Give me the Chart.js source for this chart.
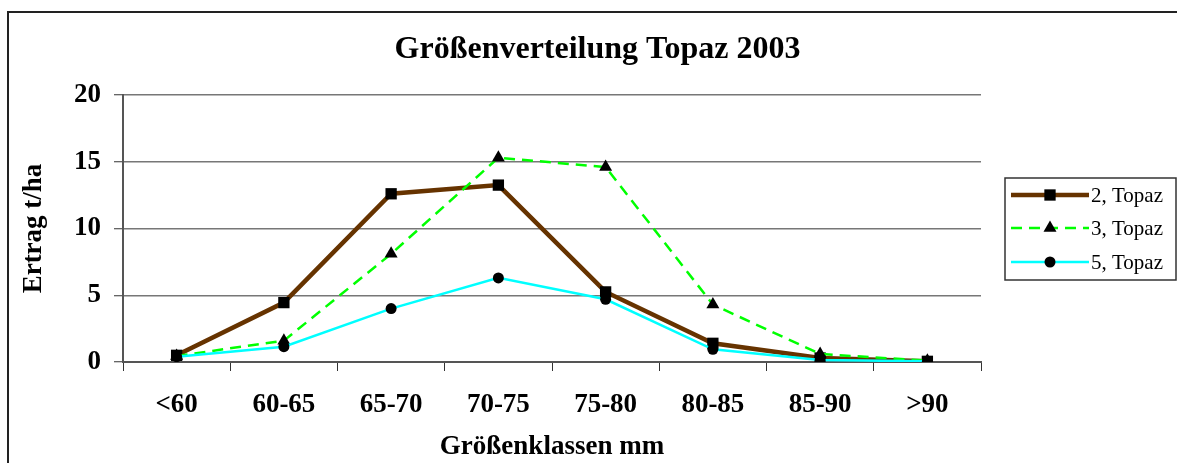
<!DOCTYPE html>
<html>
<head>
<meta charset="utf-8">
<script src="https://cdn.jsdelivr.net/npm/chart.js@4.4.1/dist/chart.umd.min.js"></script>
<style>
  html, body { margin: 0; padding: 0; background: #fff; overflow: hidden; }
  #wrap { position: relative; width: 1177px; height: 463px; }
  #frame { position: absolute; left: 7px; top: 11px; width: 1300px; height: 600px; border: 2px solid #222; }
  canvas { position: absolute; left: 0; top: 0; }
</style>
</head>
<body>
<div id="wrap">
  <div id="frame"></div>
  <canvas id="chart" width="1177" height="463"></canvas>
</div>
<script>
// Kategorien und Werte (Ertrag t/ha)
const categories = ['<60', '60-65', '65-70', '70-75', '75-80', '80-85', '85-90', '>90'];
const topaz2 = [0.5, 4.45, 12.6, 13.25, 5.25, 1.4, 0.3, 0.05];
const topaz3 = [0.45, 1.6, 8.1, 15.3, 14.6, 4.3, 0.6, 0.1];
const topaz5 = [0.4, 1.15, 4.0, 6.3, 4.7, 0.95, 0.15, 0.05];
const yTicks = [0, 5, 10, 15, 20];

const serif = '"Liberation Serif", "Times New Roman", serif';

// Legende als eigenes Plugin (Linie + Marker wie im Original)
const legendPlugin = {
    id: 'excelLegend',
    afterDraw(chart) {
        const ctx = chart.ctx;
        const x0 = 1005, y0 = 178, h = 102;
        ctx.save();
        ctx.fillStyle = '#fff';
        ctx.fillRect(x0, y0, 1176 - x0, h);
        ctx.strokeStyle = '#333';
        ctx.lineWidth = 1.5;
        ctx.strokeRect(x0, y0, 1176 - x0, h);
        const rows = [195, 228, 262];
        chart.data.datasets.forEach((ds, i) => {
            const y = rows[i];
            ctx.beginPath();
            ctx.strokeStyle = ds.borderColor;
            ctx.lineWidth = ds.borderWidth;
            ctx.setLineDash(ds.borderDash || []);
            ctx.moveTo(1011, y);
            ctx.lineTo(1089, y);
            ctx.stroke();
            ctx.setLineDash([]);
            // Marker
            ctx.fillStyle = '#000';
            ctx.strokeStyle = '#000';
            Chart.helpers.drawPoint(ctx, {
                pointStyle: ds.pointStyle,
                radius: ds.pointRadius,
                rotation: 0,
                borderWidth: 0
            }, 1050, y);
            ctx.fillStyle = '#000';
            ctx.font = '21px ' + serif;
            ctx.textBaseline = 'middle';
            ctx.textAlign = 'left';
            ctx.fillText(ds.label, 1091, y + 1);
        });
        ctx.restore();
    }
};

const ctx = document.getElementById('chart').getContext('2d');
new Chart(ctx, {
    type: 'line',
    data: {
        labels: categories,
        datasets: [{
            label: '2, Topaz',
            data: topaz2,
            borderColor: '#663300',
            borderWidth: 4.5,
            pointStyle: 'rect',
            pointRadius: 8,
            pointBackgroundColor: '#000',
            pointBorderColor: '#000',
            pointBorderWidth: 0,
            order: 2,
            tension: 0
        }, {
            label: '3, Topaz',
            data: topaz3,
            borderColor: '#00ff00',
            borderWidth: 2.5,
            borderDash: [11, 7],
            pointStyle: 'triangle',
            pointRadius: 7.5,
            pointBackgroundColor: '#000',
            pointBorderColor: '#000',
            pointBorderWidth: 0,
            order: 1,
            tension: 0
        }, {
            label: '5, Topaz',
            data: topaz5,
            borderColor: '#00ffff',
            borderWidth: 2.5,
            pointStyle: 'circle',
            pointRadius: 5.5,
            pointBackgroundColor: '#000',
            pointBorderColor: '#000',
            pointBorderWidth: 0,
            order: 0,
            tension: 0
        }]
    },
    options: {
        responsive: false,
        animation: false,
        layout: { padding: { left: 18, right: 0, top: 0, bottom: 0 } },
        plugins: {
            legend: { display: false },
            tooltip: { enabled: false },
            title: {
                display: true,
                text: 'Größenverteilung Topaz 2003',
                color: '#000',
                font: { family: serif, size: 32, weight: 'bold', lineHeight: 1.2 },
                padding: { top: 31, bottom: 25.6 }
            }
        },
        scales: {
            x: {
                offset: true,
                grid: { display: true, drawOnChartArea: false, offset: true, tickLength: 9, color: '#333', lineWidth: 1 },
                border: { display: true, color: '#555', width: 2 },
                ticks: { color: '#000', padding: 18, font: { family: serif, size: 27, weight: 'bold' } },
                title: {
                    display: true,
                    text: 'Größenklassen mm',
                    color: '#000',
                    font: { family: serif, size: 27, weight: 'bold', lineHeight: 1.2 },
                    padding: { top: 0, bottom: 0 }
                },
                afterFit: s => { s.height = 101; }
            },
            y: {
                min: 0,
                max: 20,
                afterBuildTicks: s => { s.ticks = yTicks.map(v => ({ value: v })); },
                grid: { color: '#777', lineWidth: 1.5, tickLength: 9, tickColor: '#333', tickWidth: 1 },
                border: { display: true, color: '#555', width: 2 },
                ticks: { color: '#000', padding: 13, font: { family: serif, size: 27, weight: 'bold' } },
                title: {
                    display: true,
                    text: 'Ertrag t/ha',
                    color: '#000',
                    font: { family: serif, size: 27, weight: 'bold', lineHeight: 1.2 },
                    padding: { top: 0, bottom: 0 }
                },
                afterFit: s => { s.width = 105; }
            },
            yRight: {
                position: 'right',
                display: true,
                grid: { display: false },
                border: { display: false },
                ticks: { display: false },
                afterFit: s => { s.width = 196; }
            }
        }
    },
    plugins: [legendPlugin]
});
</script>
</body>
</html>
